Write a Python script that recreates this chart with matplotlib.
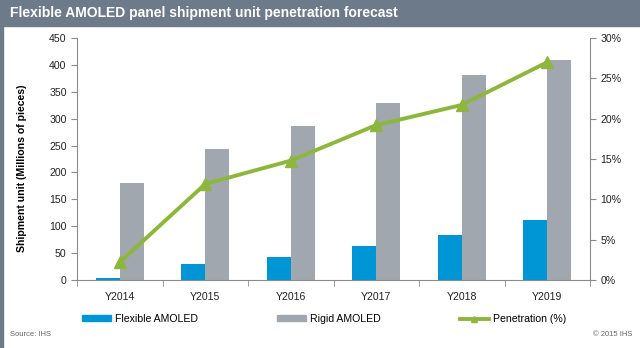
import matplotlib
matplotlib.use('Agg')
import matplotlib.pyplot as plt
import numpy as np
from matplotlib.lines import Line2D
from matplotlib.patches import Patch, Rectangle

years = ['Y2014', 'Y2015', 'Y2016', 'Y2017', 'Y2018', 'Y2019']
flexible = [4, 29, 42, 64, 83, 111]
rigid = [181, 243, 287, 330, 381, 410]
penetration = [2.2, 11.9, 14.8, 19.2, 21.7, 27.0]

blue = '#0096d6'
grey = '#a0a7ae'
green = '#8db73a'
axis_col = '#8a8a8a'
fs = 7.6

plt.rcParams['font.family'] = ['Liberation Sans', 'DejaVu Sans']

fig = plt.figure(figsize=(6.4, 3.48), dpi=100)

# header bar and left border
fig.patches.append(Rectangle((0, 1 - 26 / 348), 1, 26 / 348, transform=fig.transFigure,
                             color='#6c7a8a', zorder=0))
fig.patches.append(Rectangle((0, 0), 3 / 640, 1, transform=fig.transFigure,
                             color='#6c7a8a', zorder=0))
fig.text(10 / 640, 1 - 13 / 348, 'Flexible AMOLED panel shipment unit penetration forecast',
         color='white', fontsize=10, fontweight='bold', va='center', ha='left')

ax = fig.add_axes([77 / 640, 1 - 280 / 348, 513 / 640, 242 / 348])
x = np.arange(len(years))
w = 0.28
ax.bar(x - w / 2, flexible, w, color=blue, zorder=2)
ax.bar(x + w / 2, rigid, w, color=grey, zorder=2)
ax.set_xlim(-0.5, len(years) - 0.5)
ax.set_ylim(0, 450)
ax.set_yticks(range(0, 451, 50))
ax.set_xticks(x)
ax.set_xticklabels(years)
ax.set_xticks(np.arange(-0.5, len(years)), minor=True)
ax.tick_params(axis='x', which='major', length=0, labelsize=fs, pad=9, colors='#222222')
ax.tick_params(axis='x', which='minor', length=4, color=axis_col)
ax.tick_params(axis='y', length=4, color=axis_col, labelsize=fs, labelcolor='#222222')
ax.set_ylabel('Shipment unit (Millions of pieces)', fontsize=fs, fontweight='bold')
ax.yaxis.set_label_coords(-0.097, 0.46)
for s in ['top', 'right']:
    ax.spines[s].set_visible(False)
for s in ['left', 'bottom']:
    ax.spines[s].set_color(axis_col)

ax2 = ax.twinx()
ax2.plot(x, penetration, color=green, lw=2.8, marker='^', markersize=8, zorder=3)
ax2.set_ylim(0, 30)
ax2.set_yticks(range(0, 31, 5))
ax2.set_yticklabels([f'{v}%' for v in range(0, 31, 5)])
ax2.tick_params(axis='y', length=4, color=axis_col, labelsize=fs, labelcolor='#222222')
for s in ['top', 'left', 'bottom']:
    ax2.spines[s].set_visible(False)
ax2.spines['right'].set_color(axis_col)

# legend entries placed one by one
entries = [(Patch(color=blue), 'Flexible AMOLED', 82),
           (Patch(color=grey), 'Rigid AMOLED', 277),
           (Line2D([], [], color=green, lw=2.8, marker='^', markersize=5), 'Penetration (%)', 460)]
for h, lab, px in entries:
    fig.legend([h], [lab], loc='center left', bbox_to_anchor=(px / 640, 1 - 319 / 348),
               frameon=False, fontsize=fs, handlelength=2.7, handleheight=0.5,
               handletextpad=0.4, borderpad=0, borderaxespad=0)

fig.text(10 / 640, 1 - 334 / 348, 'Source: IHS', fontsize=5.5, color='#666666', va='center')
fig.text(632 / 640, 1 - 334 / 348, '© 2015 IHS', fontsize=5.5, color='#666666', va='center',
         ha='right')

fig.savefig('out.png', dpi=100)
